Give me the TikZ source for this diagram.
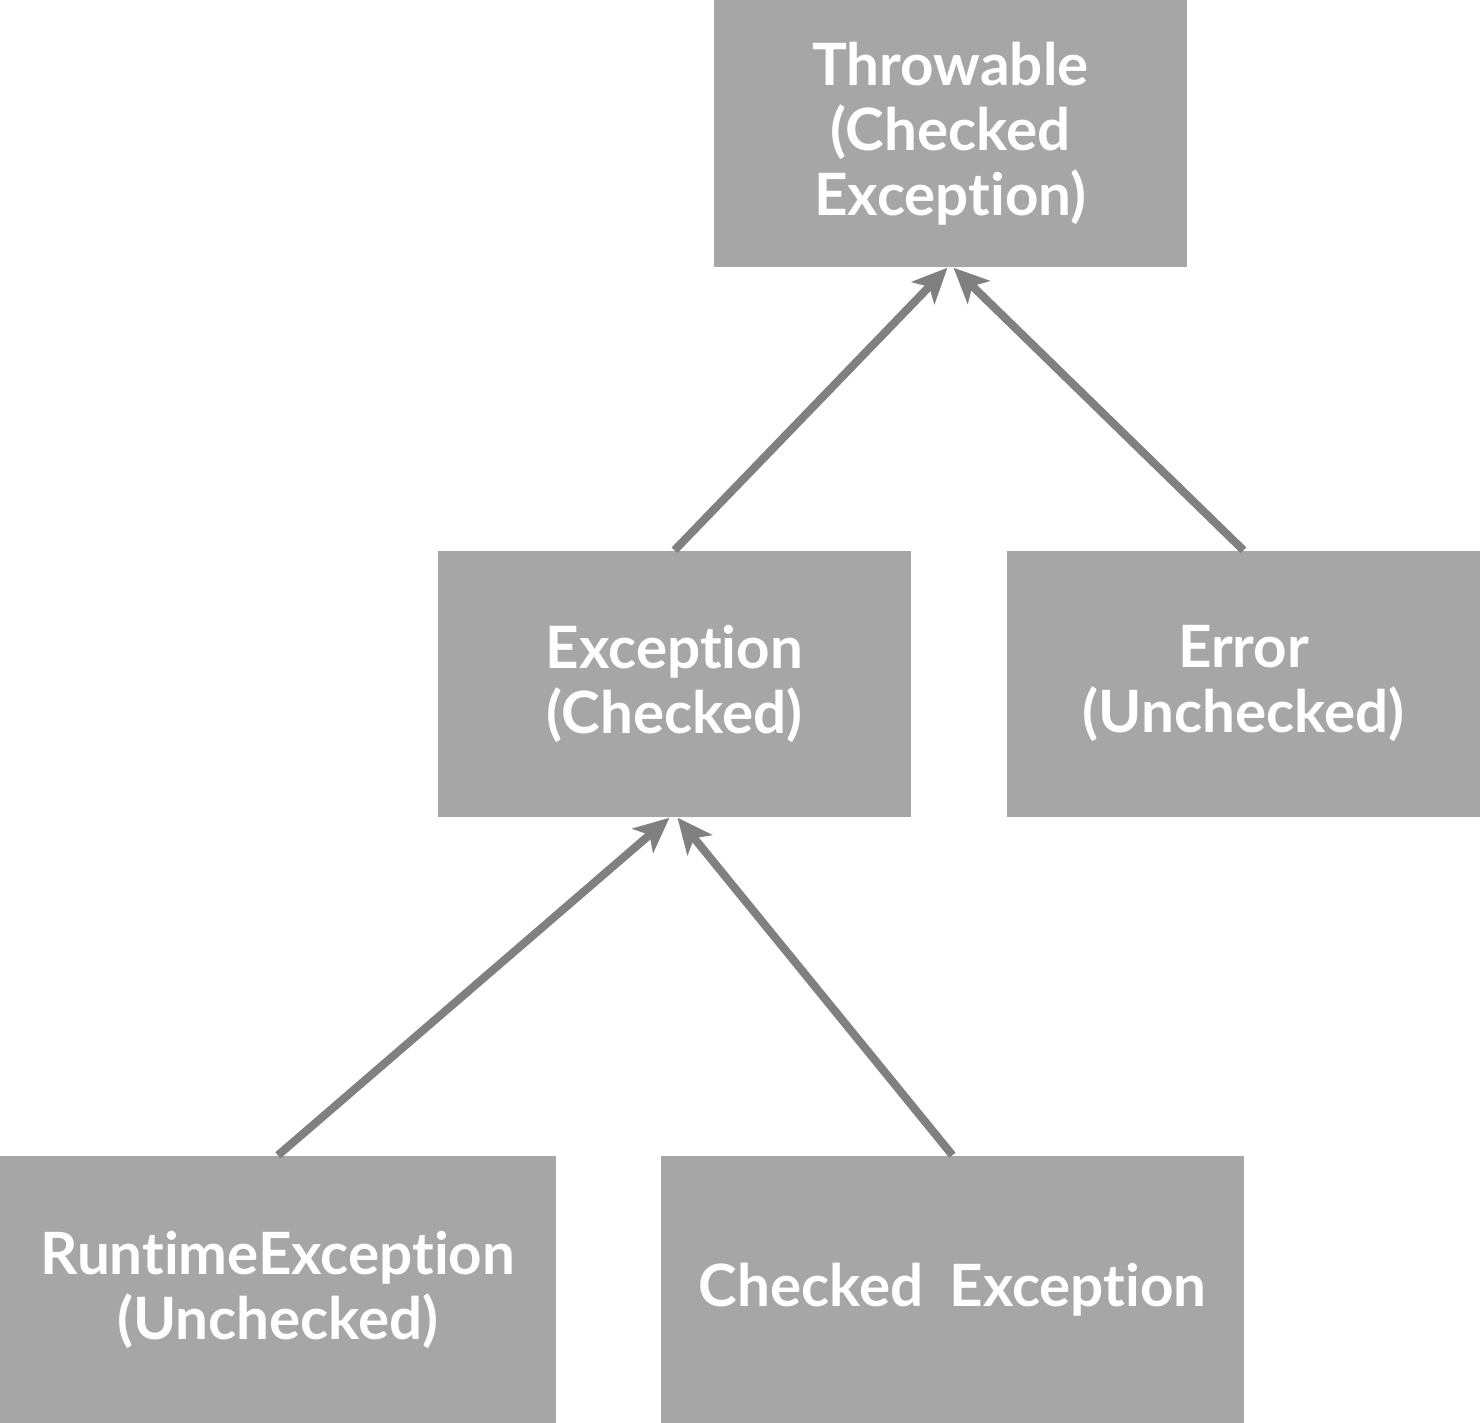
\documentclass[tikz,border=0pt]{standalone}
\usepackage{fontspec}
\setmainfont{Lato}[Ligatures=NoCommon]
\usetikzlibrary{arrows.meta}
\definecolor{boxgray}{HTML}{A6A6A6}
\definecolor{arrowgray}{HTML}{808080}
\begin{document}
\begin{tikzpicture}[
		classbox/.style={fill=boxgray, text=white, font=\bfseries\fontsize{16.6}{18.5}\selectfont, align=center, inner sep=0pt},
		inherit/.style={draw=arrowgray, line width=2.3pt, -{Stealth[length=10pt, width=9pt, inset=2.5pt]}}
	]
		\useasboundingbox (0, 0) rectangle (14.8, 14.23);
		\node[classbox, minimum width=4.73cm, minimum height=2.67cm] (throwable) at (9.505, 12.895) {Throwable\\(Checked\\Exception)};
		\node[classbox, minimum width=4.73cm, minimum height=2.66cm] (exception) at (6.745, 7.39) {Exception\\(Checked)};
		\node[classbox, minimum width=4.73cm, minimum height=2.66cm] (error) at (12.435, 7.39) {Error\\(Unchecked)};
		\node[classbox, minimum width=5.56cm, minimum height=2.67cm] (runtime) at (2.78, 1.335) {RuntimeException\\(Unchecked)};
		\node[classbox, minimum width=5.83cm, minimum height=2.67cm] (checked) at (9.525, 1.335) {Checked\hspace{0.45em}Exception};
		\draw[inherit] (exception.north) -- ([xshift=-0.03cm]throwable.south);
		\draw[inherit] (error.north) -- ([xshift=0.03cm]throwable.south);
		\draw[inherit] (runtime.north) -- ([xshift=-0.05cm]exception.south);
		\draw[inherit] (checked.north) -- ([xshift=0.03cm]exception.south);
	\end{tikzpicture}
\end{document}
